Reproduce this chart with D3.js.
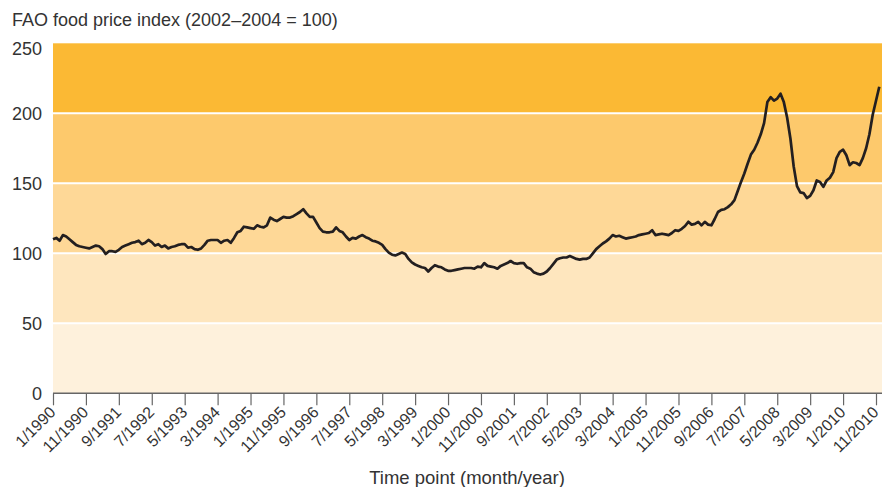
<!DOCTYPE html>
<html>
<head>
<meta charset="utf-8">
<script src="https://cdn.jsdelivr.net/npm/d3@7"></script>
<style>
  body { margin: 0; background: #fff; }
  text { font-family: "Liberation Sans", Arial, sans-serif; fill: #333; }
</style>
</head>
<body>
<svg id="canvas" width="882" height="487"></svg>
<script>
// Monthly FAO food price index, 1/1990 .. 12/2010
let foodIndex = [
  110, 111, 109, 113, 112, 110, 108, 106, 105, 104.5, 104, 103.5,      // 1990
  104.5, 105.5, 105, 103, 99.5, 101.5, 101.5, 101, 102.5, 104.5, 105.5, 106.5, // 1991
  107.5, 108, 109, 106.5, 107.5, 109.5, 108, 105.5, 106.5, 104.5, 105.5, 103.5, // 1992
  104.5, 105, 106, 106.5, 106.5, 104, 104.5, 103, 102.5, 103.5, 106, 109, // 1993
  109.5, 109.5, 109.5, 107.5, 109, 109.5, 107.5, 111, 115, 116, 119, 118.5, // 1994
  118, 117.5, 120, 119, 118.5, 120, 125.5, 124, 123, 124.5, 126, 125.5, // 1995
  125.5, 126.5, 128, 129.5, 131.5, 128.5, 126, 126, 122, 118, 115.5, 115, // 1996
  115, 115.5, 118.5, 116, 115, 112, 109.5, 111, 110.5, 112, 113, 111.5, // 1997
  110.5, 109, 108.5, 107.5, 106, 103, 100.5, 99, 98.5, 99.5, 100.5, 99.5, // 1998
  96, 93.5, 92, 91, 90, 89.5, 87, 89.5, 91.5, 90.5, 90, 88.5,          // 1999
  87.5, 87.5, 88, 88.5, 89, 89.5, 89.5, 89.5, 89, 90.5, 90, 93,        // 2000
  91, 90.5, 90, 89, 91, 92, 93, 94.5, 93, 92.5, 93, 93,                // 2001
  90, 89, 86.5, 85.5, 84.8, 85.5, 87, 89.5, 92.5, 95.5, 96.5, 97,      // 2002
  97, 98, 97, 96, 95.5, 96, 96, 97, 100, 103, 105, 107,                // 2003
  108.5, 110.5, 113, 112, 112.5, 111.5, 110.5, 111, 111.5, 112, 113, 113.5, // 2004
  114, 114.5, 116.5, 113, 113.5, 114, 113.5, 113, 114.5, 116.5, 116, 117.5, // 2005
  119.5, 122.5, 120.5, 121, 122.5, 120, 122.5, 120.5, 120, 124.5, 129.5, 131, // 2006
  131.5, 133, 135, 138, 144.5, 151, 157, 164, 170.5, 174, 179, 185,    // 2007
  193, 208, 211.5, 209, 210.5, 214, 208, 197, 182, 162, 148, 143.5,    // 2008
  143, 139.5, 141, 145, 152, 151, 147.5, 152, 154, 158, 168, 172.5,    // 2009
  174, 170, 163, 165, 164.5, 163, 168, 175, 185, 199, 209, 219         // 2010
];

let yTicks = [0, 50, 100, 150, 200, 250];
let bandColors = ['#fef1dc', '#fee6be', '#fed897', '#fdc96c', '#fbb934'];
let tickMonths = d3.range(0, 251, 10);
let tickLabels = ['1/1990', '11/1990', '9/1991', '7/1992', '5/1993', '3/1994', '1/1995',
  '11/1995', '9/1996', '7/1997', '5/1998', '3/1999', '1/2000', '11/2000', '9/2001',
  '7/2002', '5/2003', '3/2004', '1/2005', '11/2005', '9/2006', '7/2007', '5/2008',
  '3/2009', '1/2010', '11/2010'];

let canvas = d3.select('#canvas');

let plotLeft = 53, plotRight = 882, plotTop = 43.3, plotBottom = 393.3;

let xScale = d3.scaleLinear().domain([0, 250]).range([plotLeft, 876]);
let yScale = d3.scaleLinear().domain([0, 250]).range([plotBottom, plotTop]);

// coloured bands
canvas.selectAll('rect.band')
  .data(d3.range(bandColors.length))
  .enter()
  .append('rect')
  .attr('class', 'band')
  .attr('x', plotLeft)
  .attr('width', plotRight - plotLeft)
  .attr('y', (i) => yScale(yTicks[i + 1]))
  .attr('height', (i) => yScale(yTicks[i]) - yScale(yTicks[i + 1]))
  .attr('fill', (i) => bandColors[i])

// white separators
canvas.selectAll('line.grid')
  .data(yTicks.slice(1, -1))
  .enter()
  .append('line')
  .attr('x1', plotLeft)
  .attr('x2', plotRight)
  .attr('y1', (d) => yScale(d))
  .attr('y2', (d) => yScale(d))
  .attr('stroke', '#fff')
  .attr('stroke-width', 2)

// y labels
canvas.selectAll('text.ylab')
  .data(yTicks)
  .enter()
  .append('text')
  .attr('x', 42)
  .attr('y', (d) => yScale(d) + (d === 250 ? 5 : 0))
  .attr('dy', '0.35em')
  .attr('text-anchor', 'end')
  .style('font-size', '18px')
  .text((d) => d)

// x axis
let xAxis = d3.axisBottom(xScale)
  .tickValues(tickMonths)
  .tickSize(12)
  .tickFormat((d, i) => tickLabels[i]);

let axisG = canvas.append('g')
  .attr('transform', 'translate(0,' + plotBottom + ')')
  .call(xAxis);

axisG.select('.domain')
  .attr('d', 'M' + plotLeft + ',0H' + plotRight)
  .attr('stroke', '#666')
  .attr('stroke-width', 1.5);
axisG.selectAll('.tick line').attr('stroke', '#666').attr('stroke-width', 1.2);
axisG.selectAll('.tick text')
  .attr('y', 0)
  .attr('dy', 0)
  .attr('text-anchor', 'end')
  .attr('transform', 'translate(3,20) rotate(-45)')
  .style('font-size', '16px')
  .style('font-family', '"Liberation Sans", Arial, sans-serif')
  .attr('fill', '#333');

// index line
let line = d3.line()
  .x((d, i) => xScale(i))
  .y((d) => yScale(d));

canvas.append('path')
  .datum(foodIndex)
  .attr('d', line)
  .attr('fill', 'none')
  .attr('stroke', '#231f20')
  .attr('stroke-width', 2.7)
  .attr('stroke-linejoin', 'round')

// titles
canvas.append('text')
  .attr('x', 12)
  .attr('y', 26)
  .style('font-size', '18px')
  .text('FAO food price index (2002\u20132004 = 100)')

canvas.append('text')
  .attr('x', 467)
  .attr('y', 484)
  .attr('text-anchor', 'middle')
  .style('font-size', '18.5px')
  .text('Time point (month/year)')
</script>
</body>
</html>
